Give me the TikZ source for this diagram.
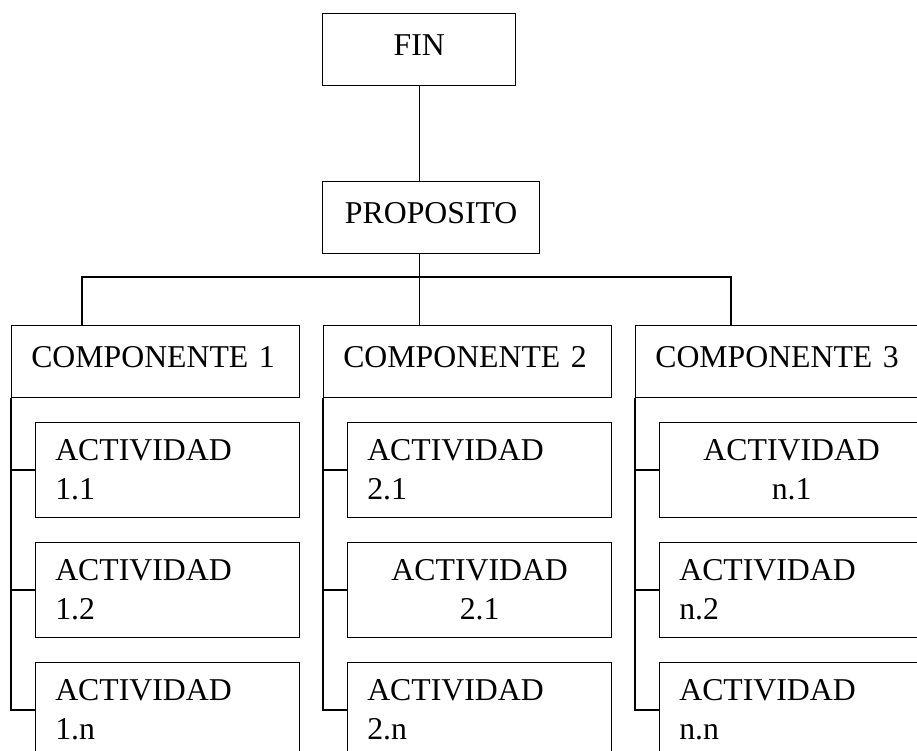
\documentclass[tikz,border=0pt]{standalone}
\usepackage{fontspec}
\setmainfont{Liberation Serif}
\begin{document}
\begin{tikzpicture}[x=0.25mm,y=-0.25mm,line width=1pt,
  caja/.style={draw,anchor=north west,inner ysep=0pt,font=\fontsize{22.6}{27.5}\selectfont},
  uno/.style={caja,minimum height=18mm,text height=5.4mm,text depth=2.6mm},
  comp/.style={uno,minimum width=72mm,inner xsep=4.9mm,text width=62.2mm,align=left},
  act/.style={caja,minimum width=66mm,minimum height=23.75mm,inner xsep=4.9mm,text width=56.2mm,align=left},
  actc/.style={act,align=center}]
\useasboundingbox (0,0) rectangle (917,751);
\clip (0,0) rectangle (917,751);
%\draw[step=50,gray,very thin] (0,0) grid (917,751); %background grid
\node[uno,minimum width=48.25mm,inner xsep=0pt] (fin) at (322,13) {FIN};
\node[uno,minimum width=54.25mm,inner xsep=0pt] (prop) at (322,181) {PROPOSITO};
\node[comp] (c1) at (11,325) {COMPONENTE 1};
\node[comp] (c2) at (323,325) {COMPONENTE 2};
\node[comp] (c3) at (635,325) {COMPONENTE 3};
\node[act]  (a11) at (35,421.7)  {ACTIVIDAD\\1.1}; %1.1
\node[act]  (a12) at (35,541.7)  {ACTIVIDAD\\1.2}; %1.2
\node[act]  (a13) at (35,661.7)  {ACTIVIDAD\\1.n}; %1.n
\node[act]  (a21) at (347,421.7) {ACTIVIDAD\\2.1}; %2.1
\node[actc] (a22) at (347,541.7) {ACTIVIDAD\\2.1}; %2.2
\node[act]  (a23) at (347,661.7) {ACTIVIDAD\\2.n}; %2.n
\node[actc] (a31) at (659,421.7) {ACTIVIDAD\\n.1}; %n.1
\node[act]  (a32) at (659,541.7) {ACTIVIDAD\\n.2}; %n.2
\node[act]  (a33) at (659,661.7) {ACTIVIDAD\\n.n}; %n.n
\coordinate (b1) at (82,277);
\coordinate (b3) at (731,277);
\draw (fin.south) -- (fin.south |- prop.north);
\draw (fin.south |- prop.south) -- (fin.south |- c2.north);
\draw (b1 |- c1.north) -- (b1) -- (b3) -- (b3 |- c3.north);
% columnas
\draw (c1.south west) -- (c1.south west |- a13.west) -- (a13.west);
\draw (c1.south west |- a11.west) -- (a11.west);
\draw (c1.south west |- a12.west) -- (a12.west);
\draw (c2.south west) -- (c2.south west |- a23.west) -- (a23.west);
\draw (c2.south west |- a21.west) -- (a21.west);
\draw (c2.south west |- a22.west) -- (a22.west);
\draw (c3.south west) -- (c3.south west |- a33.west) -- (a33.west);
\draw (c3.south west |- a31.west) -- (a31.west);
\draw (c3.south west |- a32.west) -- (a32.west);
\end{tikzpicture}
\end{document}
